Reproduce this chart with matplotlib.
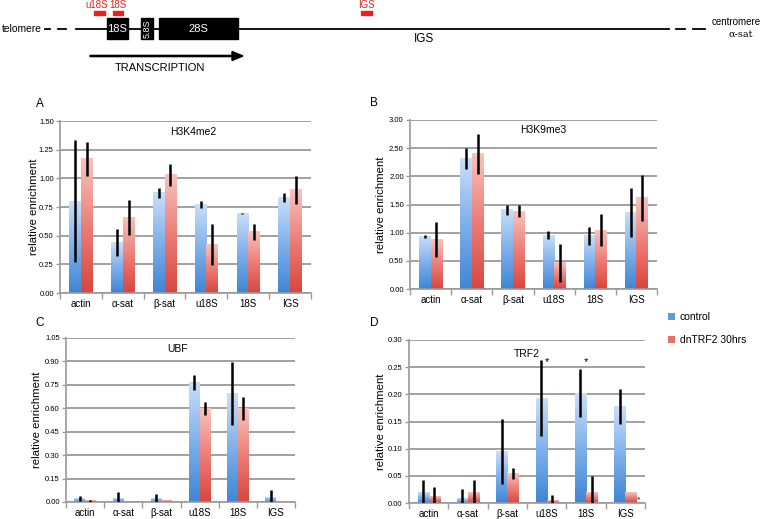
import numpy as np
import matplotlib
matplotlib.use('Agg')
import matplotlib.pyplot as plt
from matplotlib.colors import LinearSegmentedColormap
from matplotlib.patches import Rectangle, Patch, FancyArrow

plt.rcParams['font.family'] = ['Liberation Sans', 'DejaVu Sans']

# ---------------- data ----------------
categories = ['actin', 'α-sat', 'β-sat', 'u18S', '18S', 'IGS']
series_names = ['control', 'dnTRF2 30hrs']

h3k4_ctrl = [0.80, 0.44, 0.875, 0.77, 0.69, 0.835]
h3k4_ctrl_err = [0.53, 0.12, 0.045, 0.03, 0.004, 0.04]
h3k4_dn = [1.17, 0.66, 1.03, 0.42, 0.535, 0.90]
h3k4_dn_err = [0.15, 0.15, 0.095, 0.18, 0.07, 0.12]

h3k9_ctrl = [0.93, 2.315, 1.405, 0.957, 0.945, 1.36]
h3k9_ctrl_err = [0.03, 0.18, 0.09, 0.07, 0.16, 0.43]
h3k9_dn = [0.88, 2.40, 1.38, 0.467, 1.045, 1.62]
h3k9_dn_err = [0.31, 0.36, 0.11, 0.34, 0.28, 0.41]

ubf_ctrl = [0.021, 0.021, 0.02, 0.763, 0.694, 0.032]
ubf_ctrl_err = [0.015, 0.04, 0.034, 0.047, 0.20, 0.047]
ubf_dn = [0.008, 0.001, 0.008, 0.60, 0.60, 0.0]
ubf_dn_err = [0.008, 0.0, 0.0, 0.04, 0.072, 0.0]

trf2_ctrl = [0.019, 0.008, 0.095, 0.193, 0.202, 0.178]
trf2_ctrl_err = [0.024, 0.018, 0.06, 0.07, 0.044, 0.032]
trf2_dn = [0.012, 0.019, 0.054, 0.005, 0.019, 0.019]
trf2_dn_err = [0.018, 0.024, 0.01, 0.01, 0.031, 0.0]
trf2_star_cats = ['u18S', '18S']
trf2_star_level = 0.26

panel_titles = ['H3K4me2', 'H3K9me3', 'UBF', 'TRF2']
panel_letters = ['A', 'B', 'C', 'D']
ymaxes = [1.50, 3.00, 1.05, 0.30]
ysteps = [0.25, 0.50, 0.15, 0.05]

# ---------------- figure ----------------
W, H = 760, 519
fig = plt.figure(figsize=(W / 100, H / 100), dpi=100)

ov = fig.add_axes([0, 0, 1, 1], zorder=-1)
ov.set_xlim(0, W)
ov.set_ylim(H, 0)
ov.axis('off')

# --- schematic of rDNA repeat ---
line_y = 29
ov.plot([76, 669], [line_y, line_y], color='black', lw=1.3)
for x0, x1 in [(45, 50), (58, 66), (676, 685), (693, 705)]:
    ov.plot([x0, x1], [line_y, line_y], color='black', lw=1.3)
ov.text(2, line_y, 'telomere', ha='left', va='center', fontsize=7.4)
ov.text(736, 22, 'centromere', ha='center', va='center', fontsize=7)
ov.text(741, 34, 'α-sat', ha='center', va='center', fontsize=7,
        family=['DejaVu Serif', 'Liberation Serif'])
for x0, x1, lab, rot, fs in [(107, 128, '18S', 0, 8), (141, 153, '5.8S', 90, 6.5),
                             (159, 238, '28S', 0, 8)]:
    ov.add_patch(Rectangle((x0, 18), x1 - x0, 21, color='black'))
    ov.text((x0 + x1) / 2, 28.5, lab, color='white', ha='center', va='center',
            fontsize=fs, rotation=rot)
ov.text(424, 39, 'IGS', ha='center', va='center', fontsize=8.5)
ov.add_patch(FancyArrow(90, 56, 142, 0, width=1.2, head_width=9, head_length=11,
                        length_includes_head=False, color='black'))
ov.text(160, 68, 'TRANSCRIPTION', ha='center', va='center', fontsize=8)
for x0, x1, lab in [(94, 105, 'u18S'), (113, 123, '18S'), (361, 372, 'IGS')]:
    ov.add_patch(Rectangle((x0, 11), x1 - x0, 4, color='#e8201c'))
    ov.text((x0 + x1) / 2 - (3 if lab == 'u18S' else 0), 5, lab, color='#e8201c',
            ha='center', va='center', fontsize=7)

# panel letters
for lab, (x, y) in zip(panel_letters, [(40, 104), (374, 103), (40, 323), (374, 323)]):
    ov.text(x, y, lab, ha='center', va='center', fontsize=8.5)

# legend
fig.legend(handles=[Patch(facecolor='#5b9be0', edgecolor='none'),
                    Patch(facecolor='#e8706a', edgecolor='none')],
           labels=series_names, loc='upper left',
           bbox_to_anchor=(659 / W, 1 - 303 / H), frameon=False,
           handlelength=0.6, handleheight=0.6, handletextpad=0.5,
           labelspacing=1.25, fontsize=7.5)

# ---------------- bar panels ----------------
blue_cmap = LinearSegmentedColormap.from_list('b', ['#3f86d6', '#7fb0ea', '#c9def8'])
red_cmap = LinearSegmentedColormap.from_list('r', ['#d9463f', '#ec7e77', '#f8c2bd'])

rects = [
    [60 / W, 1 - 293 / H, 251 / W, 172 / H],
    [410 / W, 1 - 289 / H, 247 / W, 169 / H],
    [66 / W, 1 - 502 / H, 229 / W, 164 / H],
    [409 / W, 1 - 503 / H, 236 / W, 163 / H],
]
series = [
    (h3k4_ctrl, h3k4_ctrl_err, h3k4_dn, h3k4_dn_err),
    (h3k9_ctrl, h3k9_ctrl_err, h3k9_dn, h3k9_dn_err),
    (ubf_ctrl, ubf_ctrl_err, ubf_dn, ubf_dn_err),
    (trf2_ctrl, trf2_ctrl_err, trf2_dn, trf2_dn_err),
]
title_pos = [(0.53, 0.935), (0.54, 0.94), (0.485, 0.93), (0.50, 0.915)]
ylab_x = [34, 381, 37, 381]

gray = '#9a9a9a'
bw = 0.28
x = np.arange(len(categories))

for k in range(4):
    ax = fig.add_axes(rects[k])
    c, ce, d, de = series[k]
    ymax = ymaxes[k]
    for vals, errs, off, cmap in [(c, ce, -bw / 2, blue_cmap), (d, de, bw / 2, red_cmap)]:
        bars = ax.bar(x + off, vals, width=bw, color='none', edgecolor='none', zorder=2)
        for b in bars:
            bx, by = b.get_x(), b.get_y()
            bwid, bh = b.get_width(), b.get_height()
            if bh <= 0:
                continue
            grad = np.linspace(1, 0, 64).reshape(-1, 1)
            ax.imshow(grad, extent=[bx, bx + bwid, by, by + bh], aspect='auto',
                      cmap=cmap, vmin=0, vmax=1, zorder=2, interpolation='bilinear')
        ax.errorbar(x + off, vals, yerr=errs, fmt='none', ecolor='black',
                    elinewidth=1.8, capsize=0, zorder=3)
    if k == 3:
        for cat in trf2_star_cats:
            i = categories.index(cat)
            ax.text(i, trf2_star_level, '*', ha='center', va='center', fontsize=8)
        ax.text(len(categories) - 1 + bw + 0.05, 0.0, '*', ha='center', va='bottom',
                fontsize=6)
    ax.set_xlim(-0.5, len(categories) - 0.5)
    ax.set_ylim(0, ymax)
    ax.set_yticks(np.arange(0, ymax + 1e-9, ysteps[k]))
    ax.set_yticklabels(['%.2f' % v for v in np.arange(0, ymax + 1e-9, ysteps[k])],
                       fontsize=5.5)
    ax.set_xticks(x)
    ax.set_xticklabels(categories, fontsize=7)
    ax.set_xticks(np.arange(-0.5, len(categories)), minor=True)
    ax.tick_params(axis='x', which='major', length=0, pad=4)
    ax.tick_params(axis='x', which='minor', length=4, color=gray, width=1, direction='out')
    ax.tick_params(axis='y', length=3, color=gray, width=1, direction='out', pad=1.5)
    ax.grid(axis='y', color=gray, lw=1.3, zorder=0)
    ax.set_axisbelow(True)
    for s in ['top', 'right']:
        ax.spines[s].set_visible(False)
    for s in ['left', 'bottom']:
        ax.spines[s].set_color(gray)
        ax.spines[s].set_linewidth(1.2)
    ax.set_facecolor('none')
    ax.text(title_pos[k][0], title_pos[k][1], panel_titles[k], transform=ax.transAxes,
            ha='center', va='center', fontsize=7.5)
    fig.text(ylab_x[k] / W, (rects[k][1] + rects[k][3] / 2), 'relative enrichment',
             rotation=90, ha='center', va='center', fontsize=8.2)

fig.savefig('out.png', dpi=100)
